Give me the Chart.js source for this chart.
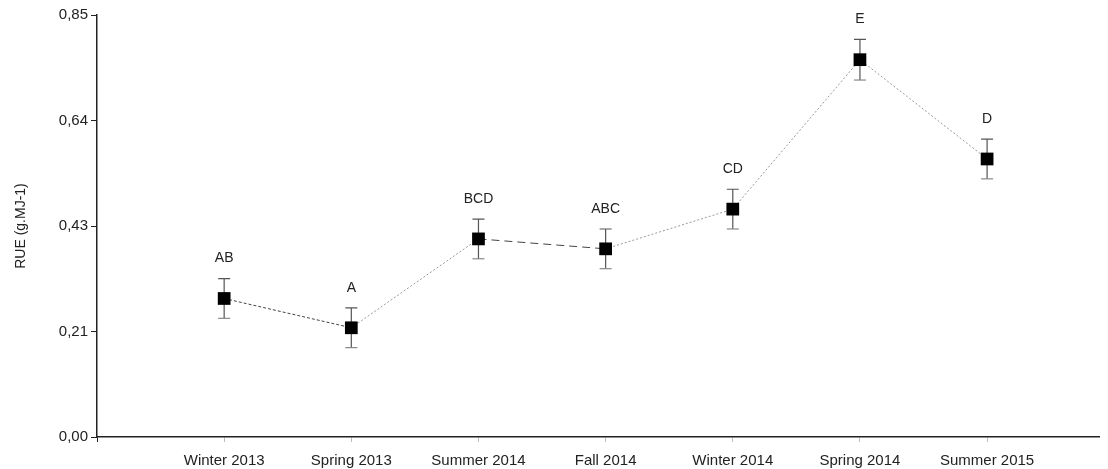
<!DOCTYPE html>
<html>
<head>
<meta charset="utf-8">
<script src="https://cdn.jsdelivr.net/npm/chart.js@4"></script>
<style>
  html, body { margin: 0; padding: 0; background: #fff; }
  #wrap { width: 1108px; height: 469px; }
</style>
</head>
<body>
<div id="wrap"><canvas id="chart" width="1108" height="469"></canvas></div>
<script>
var seasons = ['Winter 2013', 'Spring 2013', 'Summer 2014', 'Fall 2014', 'Winter 2014', 'Spring 2014', 'Summer 2015'];
var rue = [0.279, 0.220, 0.399, 0.379, 0.459, 0.760, 0.560];
var rueErr = [0.040, 0.040, 0.040, 0.040, 0.040, 0.041, 0.040];
var letters = ['AB', 'A', 'BCD', 'ABC', 'CD', 'E', 'D'];
var yTicks = [0, 0.2125, 0.425, 0.6375, 0.85];
var yTickLabels = ['0,00', '0,21', '0,43', '0,64', '0,85'];

var points = [];
for (var i = 0; i < seasons.length; i++) {
  points.push({x: i + 1, y: rue[i]});
}

// error bars under the markers, letters on top, all from the scales
var errorBars = {
  id: 'errorBars',
  beforeDatasetsDraw: function(chart) {
    var ctx = chart.ctx;
    var xs = chart.scales.x;
    var ys = chart.scales.y;
    ctx.save();
    for (var i = 0; i < rue.length; i++) {
      var x = xs.getPixelForValue(i + 1);
      var top = ys.getPixelForValue(rue[i] + rueErr[i]);
      var bot = ys.getPixelForValue(rue[i] - rueErr[i]);
      ctx.strokeStyle = '#555';
      ctx.lineWidth = 1.2;
      ctx.beginPath();
      ctx.moveTo(x, top); ctx.lineTo(x, bot);
      ctx.moveTo(x - 6, top); ctx.lineTo(x + 6, top);
      ctx.stroke();
      ctx.strokeStyle = '#888';
      ctx.beginPath();
      ctx.moveTo(x - 6, bot); ctx.lineTo(x + 6, bot);
      ctx.stroke();
    }
    ctx.restore();
  },
  afterDatasetsDraw: function(chart) {
    var ctx = chart.ctx;
    var xs = chart.scales.x;
    var ys = chart.scales.y;
    ctx.save();
    ctx.fillStyle = '#222';
    ctx.font = '14px "Liberation Sans", Arial, sans-serif';
    ctx.textAlign = 'center';
    ctx.textBaseline = 'middle';
    for (var i = 0; i < rue.length; i++) {
      var x = xs.getPixelForValue(i + 1);
      var top = ys.getPixelForValue(rue[i] + rueErr[i]);
      ctx.fillText(letters[i], x, top - 20);
    }
    ctx.restore();
  }
};

function segStyle(ctx) {
  if (ctx.p0DataIndex === 0) return [3, 2];
  if (ctx.p0DataIndex === 2) return [8, 5];
  return [2, 2];
}
function segColor(ctx) {
  if (ctx.p0DataIndex === 0 || ctx.p0DataIndex === 2) return '#444';
  return '#999';
}

new Chart(document.getElementById('chart'), {
  type: 'line',
  data: {
    datasets: [{
      data: points,
      borderColor: '#999',
      borderWidth: 1,
      borderDash: [2, 2],
      segment: { borderDash: segStyle, borderColor: segColor },
      pointStyle: 'rect',
      pointRadius: 9,
      pointBackgroundColor: '#000',
      pointBorderColor: '#000',
      pointBorderWidth: 0,
      fill: false,
      tension: 0
    }]
  },
  options: {
    responsive: false,
    animation: false,
    layout: { padding: { top: 15, left: 0, right: 0, bottom: 0 } },
    plugins: { legend: { display: false }, tooltip: { enabled: false } },
    scales: {
      x: {
        type: 'linear',
        min: 0,
        max: 7.88,
        afterBuildTicks: function(s) {
          s.ticks = [{value: 0}].concat(seasons.map(function(n, i) { return {value: i + 1}; }));
        },
        afterFit: function(s) { s.height = 32; },
        border: { display: true, color: '#222', width: 1.5 },
        grid: {
          drawOnChartArea: false,
          drawTicks: true,
          tickLength: 5,
          color: function(c) { return c.index === 0 ? '#222' : '#bbb'; }
        },
        ticks: {
          autoSkip: false,
          maxRotation: 0,
          padding: 10,
          color: '#222',
          font: { family: '"Liberation Sans", Arial, sans-serif', size: 15 },
          callback: function(v) { return v >= 1 ? seasons[v - 1] : ''; }
        }
      },
      y: {
        min: 0,
        max: 0.85,
        afterBuildTicks: function(s) {
          s.ticks = yTicks.map(function(v) { return {value: v}; });
        },
        afterFit: function(s) { s.width = 97; },
        border: { display: true, color: '#222', width: 1.5 },
        grid: { drawOnChartArea: false, drawTicks: true, tickLength: 6, color: '#222' },
        ticks: {
          padding: 3,
          color: '#222',
          font: { family: '"Liberation Sans", Arial, sans-serif', size: 15 },
          callback: function(v, i) { return yTickLabels[i]; }
        },
        title: {
          display: true,
          text: 'RUE (g.MJ-1)',
          color: '#222',
          padding: { top: 13, bottom: 6 },
          font: { family: '"Liberation Sans", Arial, sans-serif', size: 14 }
        }
      }
    }
  },
  plugins: [errorBars]
});
</script>
</body>
</html>
